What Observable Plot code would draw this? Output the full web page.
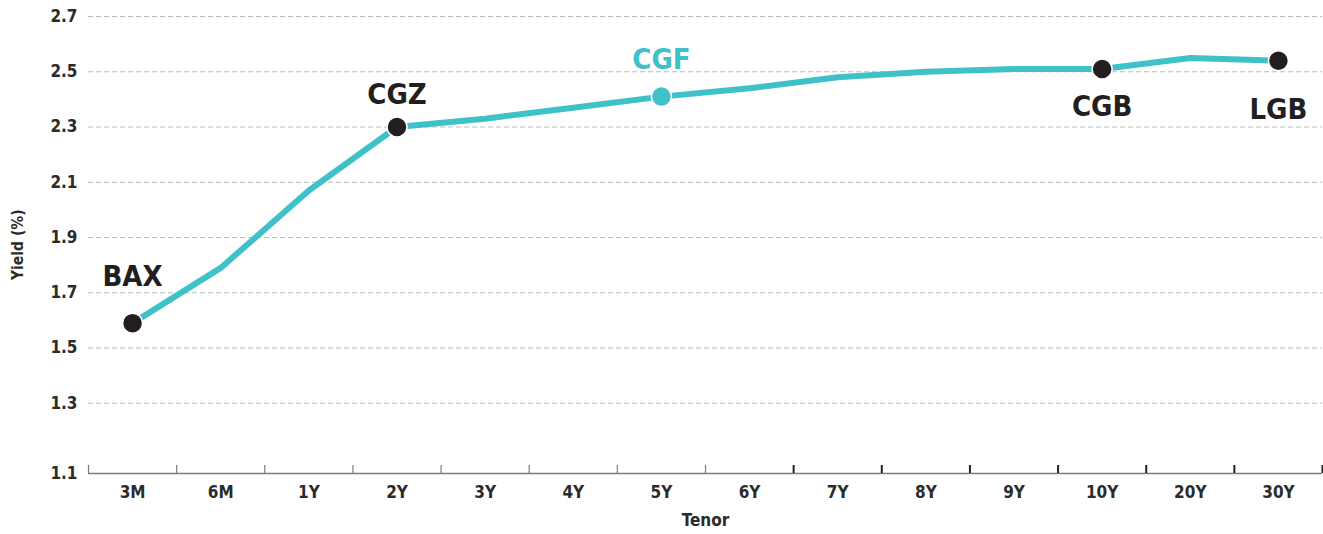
<!DOCTYPE html>
<html>
<head>
<meta charset="utf-8">
<script src="https://cdn.jsdelivr.net/npm/d3@7"></script>
<script src="https://cdn.jsdelivr.net/npm/@observablehq/plot@0.6"></script>
<style>
  html, body { margin: 0; padding: 0; background: #fff; }
  svg { font-family: "DejaVu Sans Condensed", "Liberation Sans Narrow", sans-serif; }
</style>
</head>
<body>
<div id="chart"></div>
<script>
// ---- data ----
const tenors = ["3M","6M","1Y","2Y","3Y","4Y","5Y","6Y","7Y","8Y","9Y","10Y","20Y","30Y"];
const yields = [1.59, 1.79, 2.07, 2.30, 2.33, 2.37, 2.41, 2.44, 2.48, 2.50, 2.51, 2.51, 2.55, 2.54];
const yTicks = [1.1, 1.3, 1.5, 1.7, 1.9, 2.1, 2.3, 2.5, 2.7];
const markers = ["BAX", "CGZ", "CGF", "CGB", "LGB"];
const markerTenors = ["3M", "2Y", "5Y", "10Y", "30Y"];

// ---- build ----
const TEAL = "#3fc1ca";
const DARK = "#231f20";
const idx = t => tenors.indexOf(t);
const curve = tenors.map((t, i) => ({i, tenor: t, y: yields[i]}));
const points = markers.map((m, k) => {
  const i = idx(markerTenors[k]);
  return {label: m, i, y: yields[i]};
});
const boundaries = d3.range(tenors.length + 1).map(i => i - 0.5);
const labelStyle = {
  BAX: {dy: -46, fill: DARK},
  CGZ: {dy: -32, fill: DARK},
  CGF: {dy: -37, fill: TEAL},
  CGB: {dy: 38, fill: DARK},
  LGB: {dy: 49, fill: DARK}
};

const chart = Plot.plot({
  width: 1323,
  height: 534,
  marginLeft: 88,
  marginRight: 1,
  marginTop: 16,
  marginBottom: 61,
  style: {fontFamily: "'DejaVu Sans Condensed', 'Liberation Sans Narrow', sans-serif", background: "#fff"},
  x: {type: "linear", domain: [-0.5, tenors.length - 0.5]},
  y: {domain: [1.1, 2.7], insetBottom: 15},
  marks: [
    Plot.ruleY(yTicks.slice(1), {stroke: "#bdbdbd", strokeWidth: 1, strokeDasharray: "5,3"}),
    Plot.ruleY([1.1], {stroke: "#6f7f8c", strokeWidth: 1.5, dy: 15}),
    Plot.ruleX(boundaries, {stroke: (d, i) => i >= 8 ? "#222" : "#6f7f8c", strokeWidth: (d, i) => i >= 8 ? 2 : 1.2, insetTop: 449}),
    Plot.axisY({ticks: yTicks.slice(1), tickSize: 0, tickPadding: 11, label: null,
      fontSize: 17, fontWeight: "bold", fill: "#2b2b2b"}),
    Plot.text([1.1], {x: -0.5, y: d => d, text: d => d.toFixed(1), textAnchor: "end", dx: -11, dy: 15,
      fontSize: 17, fontWeight: "bold", fill: "#2b2b2b"}),
    Plot.axisX({ticks: tenors.map((t, i) => i), tickFormat: i => tenors[i], tickSize: 0, tickPadding: 12,
      label: null, fontSize: 17, fontWeight: "bold", fill: "#2b2b2b"}),
    Plot.text(["Tenor"], {frameAnchor: "bottom", dy: 52, text: d => d, fontSize: 17, fontWeight: "bold", fill: "#2b2b2b"}),
    Plot.text(["Yield (%)"], {frameAnchor: "left", dx: -70, dy: 35, rotate: -90, text: d => d, fontSize: 15.5, fontWeight: "bold", fill: "#2b2b2b"}),
    Plot.line(curve, {x: "i", y: "y", stroke: TEAL, strokeWidth: 6, strokeLinejoin: "miter"}),
    Plot.dot(points, {x: "i", y: "y", r: 10, fill: d => d.label === "CGF" ? TEAL : DARK, stroke: "#fff", strokeWidth: 1.5}),
    ...markers.map(m => Plot.text(points.filter(p => p.label === m), {
      x: "i", y: "y", text: "label", dy: labelStyle[m].dy, fill: labelStyle[m].fill,
      fontSize: 29, fontWeight: "bold"
    }))
  ]
});
document.getElementById("chart").appendChild(chart);
</script>
</body>
</html>
